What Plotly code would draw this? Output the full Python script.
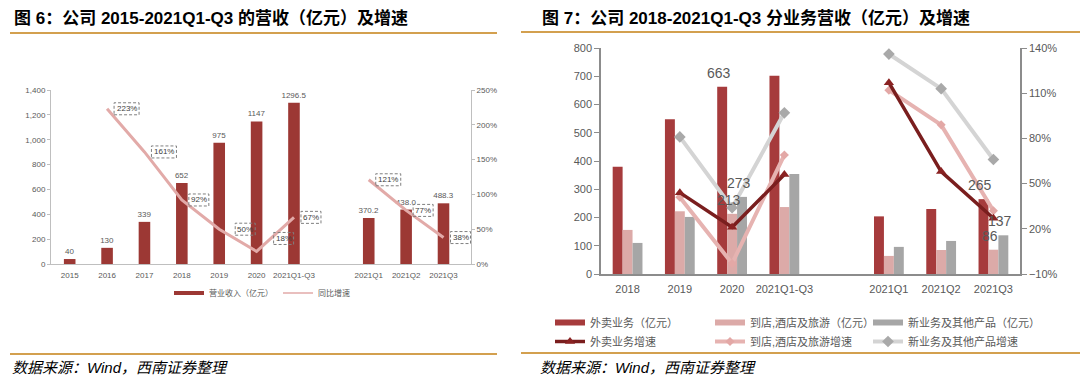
import plotly.graph_objects as go

# ---------------- data: left chart (图6) ----------------
cats_l = ["2015", "2016", "2017", "2018", "2019", "2020", "2021Q1-Q3", " ", "2021Q1", "2021Q2", "2021Q3"]
revenue_l = [40, 130, 339, 652, 975, 1147, 1296.5, None, 370.2, 438.0, 488.3]
growth_l = [None, 223, 161, 92, 50, 18, 67, None, 121, 77, 38]

# ---------------- data: right chart (图7) ----------------
cats_r = ["2018", "2019", "2020", "2021Q1-Q3", " ", "2021Q1", "2021Q2", "2021Q3"]
food_rev = [380, 548, 663, 702, None, 204, 230, 265]
instore_rev = [156, 222, 213, 237, None, 64, 85, 86]
newbiz_rev = [110, 202, 273, 354, None, 96, 117, 137]
food_g = [None, 44, 21, 56, None, 117, 58, 27]
instore_g = [None, 41, -3, 69, None, 112, 89, 32]
newbiz_g = [None, 81, 34, 97, None, 136, 113, 66]
labelled_cats_r = ["2020", "2021Q3"]

# ---------------- style ----------------
W, H = 1080, 384
FONT = "Liberation Sans, Arial, Noto Sans CJK SC, sans-serif"
TXT = "#595959"
AXL = "#bfbfbf"
AXR = "#8c8c8c"
GOLD = "#d3a04f"
RED_L = "#9c3834"
PINK_L = "#e2aaa8"
RED = "#a63b3c"
PINK = "#dcaaa8"
GRAY = "#a6a6a6"
DRED_LINE = "#7a1e1e"
PINK_LINE = "#e6b3b1"
GRAY_LINE = "#d4d4d4"


def px(p):
    return p / W


def py(p):
    return 1 - p / H


def fmt_rev(c, v):
    if v is None:
        return ""
    return f"{v:.1f}" if "Q" in c else f"{v:g}"


fig = go.Figure()

# left chart
fig.add_trace(go.Bar(
    x=cats_l, y=revenue_l, xaxis="x", yaxis="y", width=0.31,
    marker=dict(color=RED_L, line=dict(width=0)),
    text=[fmt_rev(c, v) for c, v in zip(cats_l, revenue_l)],
    textposition="outside", textfont=dict(size=8, color=TXT),
    constraintext="none", cliponaxis=False, showlegend=False,
))
fig.add_trace(go.Scatter(
    x=cats_l, y=growth_l, xaxis="x", yaxis="y2", mode="lines",
    line=dict(color=PINK_L, width=3), showlegend=False,
))
fig.add_trace(go.Scatter(x=[None], y=[None], xaxis="x", yaxis="y", mode="lines",
                         line=dict(color=RED_L, width=4), name="营业收入（亿元）", legend="legend"))
fig.add_trace(go.Scatter(x=[None], y=[None], xaxis="x", yaxis="y2", mode="lines",
                         line=dict(color=PINK_L, width=1.5), name="同比增速", legend="legend"))

annotations = []
shapes = []

# right chart bars (each column of the legend is its own legend: legend2..legend4)
bar_series = [(food_rev, RED, "外卖业务（亿元）", "legend2"),
              (instore_rev, PINK, "到店,酒店及旅游（亿元）", "legend3"),
              (newbiz_rev, GRAY, "新业务及其他产品（亿元）", "legend4")]
for k, (vals, col, name, leg) in enumerate(bar_series):
    fig.add_trace(go.Bar(
        x=cats_r, y=vals, xaxis="x2", yaxis="y3",
        marker=dict(color=col, line=dict(width=0)), showlegend=False,
    ))
    fig.add_trace(go.Scatter(x=[None], y=[None], xaxis="x2", yaxis="y3", mode="lines",
                             line=dict(color=col, width=6), name=name, legend=leg, legendrank=1))
    for i, (c, v) in enumerate(zip(cats_r, vals)):
        if c in labelled_cats_r and v is not None:
            annotations.append(dict(x=i, y=v, xref="x2", yref="y3", text=f"{v:g}", showarrow=False,
                                    xanchor="center", yanchor="middle", xshift=(k - 1) * 10 - 3, yshift=14,
                                    font=dict(size=14, color=TXT)))

# right chart lines (draw gray, pink, dark red)
fig.add_trace(go.Scatter(
    x=cats_r, y=newbiz_g, xaxis="x2", yaxis="y4", mode="lines+markers",
    line=dict(color=GRAY_LINE, width=4), marker=dict(symbol="diamond", size=9, color="#a9a9a9"),
    name="新业务及其他产品增速", legend="legend4", legendrank=2,
))
fig.add_trace(go.Scatter(
    x=cats_r, y=instore_g, xaxis="x2", yaxis="y4", mode="lines+markers",
    line=dict(color=PINK_LINE, width=4), marker=dict(symbol="diamond", size=7, color="#e3a8a6"),
    name="到店,酒店及旅游增速", legend="legend3", legendrank=2,
))
fig.add_trace(go.Scatter(
    x=cats_r, y=food_g, xaxis="x2", yaxis="y4", mode="lines+markers",
    line=dict(color=DRED_LINE, width=3.5), marker=dict(symbol="triangle-up", size=9, color="#8a2222"),
    name="外卖业务增速", legend="legend2", legendrank=2,
))

# dashed-box growth labels on left chart
special = {"2019": (16, 0), "2020": (17, 13)}
for i, (c, g) in enumerate(zip(cats_l, growth_l)):
    if g is None:
        continue
    t = f"{g:.0f}%"
    off, up = special.get(c, (7, 0))
    w = 5 * len(t) + 5
    shapes.append(dict(type="rect", xref="x", yref="y2", xsizemode="pixel", ysizemode="pixel",
                       xanchor=i, yanchor=g, x0=off, x1=off + w, y0=up - 6, y1=up + 6,
                       line=dict(color="#7f7f7f", width=1, dash="3px,2px"), fillcolor="rgba(0,0,0,0)"))
    annotations.append(dict(x=i, y=g, xref="x", yref="y2", text=t, showarrow=False,
                            xanchor="center", yanchor="middle", xshift=off + w / 2, yshift=up,
                            font=dict(size=8, color="#404040")))

# gold rules
for x0, x1, y in [(10, 497, 33), (521, 1080, 32), (10, 497, 354), (521, 1080, 353)]:
    shapes.append(dict(type="line", xref="paper", yref="paper", x0=px(x0), x1=px(x1),
                       y0=py(y), y1=py(y), line=dict(color=GOLD, width=2)))

# titles & sources
for x, title in [(12, "图 6：公司 2015-2021Q1-Q3 的营收（亿元）及增速"),
                 (540, "图 7：公司 2018-2021Q1-Q3 分业务营收（亿元）及增速")]:
    annotations.append(dict(x=px(x), y=py(18), xref="paper", yref="paper", xanchor="left", yanchor="middle",
                            text=f"<b>{title}</b>", showarrow=False,
                            font=dict(size=17, color="#000000", family=FONT)))
for x in [10, 538]:
    annotations.append(dict(x=px(x), y=py(367), xref="paper", yref="paper", xanchor="left", yanchor="middle",
                            text="<i>数据来源：Wind，西南证券整理</i>", showarrow=False,
                            font=dict(size=15, color="#000000", family=FONT)))

left_axis = dict(showline=True, linecolor=AXL, linewidth=1, showgrid=False, zeroline=False,
                 tickfont=dict(size=8, color=TXT))
right_axis = dict(showline=True, linecolor=AXR, linewidth=1.5, showgrid=False, zeroline=False,
                  tickfont=dict(size=11, color=TXT))

legend_common = dict(orientation="v", xanchor="left", y=py(308), yanchor="top",
                     font=dict(size=11, color=TXT), itemwidth=30, bgcolor="rgba(0,0,0,0)",
                     tracegroupgap=0)

fig.update_layout(
    width=W, height=H, margin=dict(l=0, r=0, t=0, b=0, autoexpand=False),
    paper_bgcolor="white", plot_bgcolor="white",
    font=dict(family=FONT, color=TXT),
    barmode="group", bargap=0.43, bargroupgap=0,
    xaxis=dict(domain=[px(51), px(471)], anchor="y", type="category",
               categoryorder="array", categoryarray=cats_l, ticks="", ticklabelstandoff=3, **left_axis),
    yaxis=dict(domain=[py(264), py(90)], anchor="x", range=[0, 1400], dtick=200, tickformat=",",
               ticks="outside", ticklen=3, tickcolor=AXL, **left_axis),
    yaxis2=dict(overlaying="y", side="right", anchor="x", range=[0, 250], dtick=50, ticksuffix="%",
                ticks="outside", ticklen=3, tickcolor=AXL, **left_axis),
    xaxis2=dict(domain=[px(601), px(1020)], anchor="y3", type="category",
                categoryorder="array", categoryarray=cats_r, ticks="", ticklabelstandoff=4, **right_axis),
    yaxis3=dict(domain=[py(274), py(48)], anchor="x2", range=[0, 800], dtick=100,
                ticks="outside", ticklen=5, tickcolor=AXR, **right_axis),
    yaxis4=dict(overlaying="y3", side="right", anchor="x2", range=[-10, 140], tick0=-10, dtick=30,
                ticksuffix="%", ticks="outside", ticklen=5, tickcolor=AXR, **right_axis),
    legend=dict(orientation="h", x=px(262), xanchor="center", y=py(293), yanchor="middle",
                font=dict(size=8, color=TXT), itemwidth=30, bgcolor="rgba(0,0,0,0)"),
    legend2=dict(x=px(550), **legend_common),
    legend3=dict(x=px(710), **legend_common),
    legend4=dict(x=px(868), **legend_common),
    shapes=shapes, annotations=annotations,
)

fig.write_html("out.html", config={"displayModeBar": False},
               post_script="document.body.style.margin='0px';")
